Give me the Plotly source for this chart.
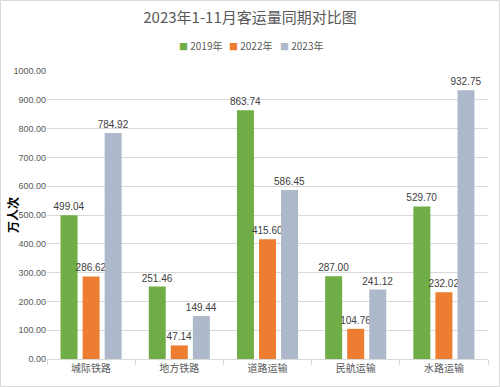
import plotly.graph_objects as go

categories = ["城际铁路", "地方铁路", "道路运输", "民航运输", "水路运输"]
series_names = ["2019年", "2022年", "2023年"]
v2019 = [499.04, 251.46, 863.74, 287.00, 529.70]
v2022 = [286.62, 47.14, 415.60, 104.76, 232.02]
v2023 = [784.92, 149.44, 586.45, 241.12, 932.75]
y_ticks = [0, 100, 200, 300, 400, 500, 600, 700, 800, 900, 1000]

colors = ["#70AD47", "#ED7D31", "#ADB9CA"]
cjk = "Noto Sans CJK SC"
num_font = "Liberation Sans"

L, R, T, B = 47, 12, 71, 28
PW, PH = 500 - L - R, 387 - T - B


def px(xp):
    return (xp - L) / PW


def py(yp):
    return (387 - B - yp) / PH


fig = go.Figure()
for name, vals, c in zip(series_names, [v2019, v2022, v2023], colors):
    fig.add_trace(go.Bar(
        x=categories, y=vals, name=name, showlegend=False,
        marker=dict(color=c, line=dict(width=8, color="rgba(0,0,0,0)")),
        texttemplate="%{y:.2f}", textposition="outside", textangle=0,
        textfont=dict(family=num_font, size=10, color="#404040"),
        cliponaxis=False,
    ))

legend_x = [177, 227, 278]
annotations = [dict(text="<b>万人次</b>", textangle=-90, xref="paper", yref="paper",
                    x=px(12), y=py(215), xanchor="center", yanchor="middle",
                    showarrow=False, font=dict(family=cjk, size=12, color="#000000"))]
for name, c, lx in zip(series_names, colors, legend_x):
    annotations.append(dict(
        text=f"<span style='color:{c};font-size:9px'>■</span> {name}",
        xref="paper", yref="paper", x=px(lx), y=py(45), xanchor="left", yanchor="middle",
        showarrow=False, font=dict(family=cjk, size=10, color="#595959")))

fig.update_layout(
    width=500, height=387,
    margin=dict(l=L, r=R, t=T, b=B, autoexpand=False),
    paper_bgcolor="white", plot_bgcolor="white",
    barmode="group", bargap=0.25, bargroupgap=0.23,
    showlegend=False, uniformtext=dict(minsize=10, mode="show"),
    title=dict(text="2023年1-11月客运量同期对比图", x=0.5, xanchor="center",
               y=1 - 18 / 387, yanchor="middle",
               font=dict(family=cjk, size=15, color="#595959")),
    xaxis=dict(showline=True, linecolor="#D9D9D9", linewidth=1, automargin=False,
               ticks="outside", tickson="boundaries", ticklen=5, tickcolor="#D9D9D9",
               tickfont=dict(family=cjk, size=10, color="#595959"), showgrid=False),
    yaxis=dict(range=[0, 1000], tickvals=y_ticks, tickformat=".2f", automargin=False,
               showgrid=True, gridcolor="#D9D9D9", gridwidth=1, zeroline=False,
               showline=False, ticks="",
               tickfont=dict(family=num_font, size=9, color="#595959")),
    annotations=annotations,
    shapes=[dict(type="rect", xref="paper", yref="paper",
                 x0=px(0.5), x1=px(499.5), y0=py(386.5), y1=py(0.5),
                 line=dict(color="#D9D9D9", width=1), fillcolor="rgba(0,0,0,0)",
                 layer="below")],
)

fig.write_html("out.html", config={"displayModeBar": False},
               post_script="document.body.style.margin='0';document.body.style.overflow='hidden';")
